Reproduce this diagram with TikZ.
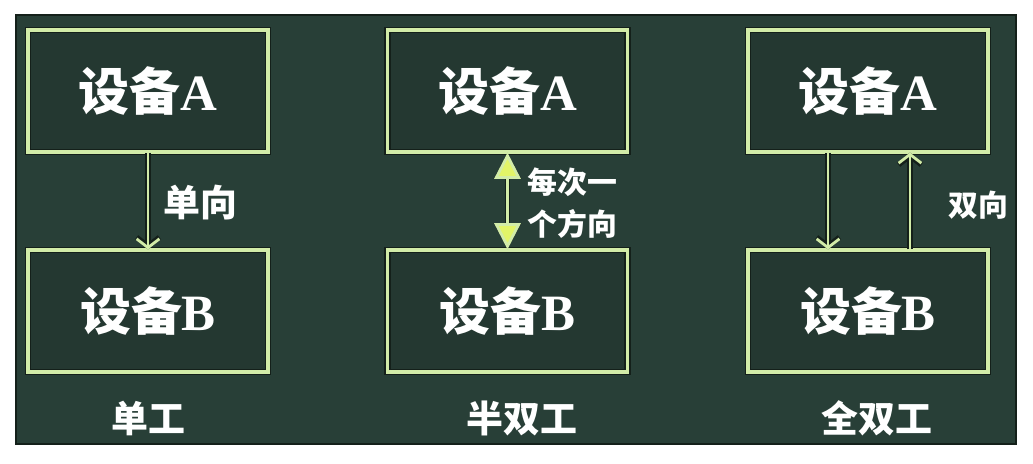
\documentclass[tikz,border=0pt]{standalone}
\usepackage{fontspec}
\setmainfont{Liberation Serif}
\newfontfamily\cjk{Noto Sans CJK SC}
\usetikzlibrary{arrows.meta}
\usetikzlibrary{calc,positioning}

\definecolor{board}{RGB}{40,63,55}
\definecolor{boxfill}{RGB}{36,56,49}
\definecolor{edge}{RGB}{20,32,26}
\definecolor{chalk}{RGB}{210,236,168}
\definecolor{tipfill}{RGB}{226,244,104}

\tikzset{
  devbox/.style={draw=edge, double=chalk, double distance=2.2pt, line width=0.7pt,
    fill=boxfill, minimum width=4.8cm, minimum height=2.44cm, inner sep=0pt,
    text=white, font=\fontsize{29}{32}\selectfont\bfseries},
  chalkline/.style={draw=chalk, line width=1.6pt,
    preaction={draw=edge, line width=3pt}},
  label/.style={text=white, font=\cjk\bfseries\fontsize{21}{24}\selectfont, inner sep=0pt},
  small/.style={text=white, font=\cjk\bfseries\fontsize{17}{24}\selectfont, inner sep=0pt, align=left},
}

\begin{document}
\begin{tikzpicture}[x=0.02cm, y=-0.02cm]
    \useasboundingbox (0,0) rectangle (1033,463);
    \fill[white] (0,0) rectangle (1033,463);
    \draw[fill=board, draw=edge, line width=1.5pt] (16,15) rectangle (1016,444);

    % simplex
    \node[devbox] (A1) at (148,91) {{\cjk 设备}A};
    \node[devbox] (B1) at (148,311) {{\cjk 设备}B};
    \draw[chalkline, -{Straight Barb[length=5pt,width=13pt]}] (A1.south) -- (B1.north);
    \node[label] (u1) at (200,203) {单向};
    \node[label] (t1) at (148,418) {单工};

    % half duplex
    \node[devbox] (A2) at (507.5,91) {{\cjk 设备}A};
    \node[devbox] (B2) at (507.5,311) {{\cjk 设备}B};
    \draw[chalkline, {Triangle[length=15pt,width=15pt,fill=tipfill]}-{Triangle[length=15pt,width=15pt,fill=tipfill]}]
        (A2.south) -- (B2.north);
    \node[small, anchor=west] (u2) at (527,203) {每次一\\个方向};
    \node[label] (t2) at (522,418) {半双工};

    % full duplex
    \node[devbox] (A3) at (868,91) {{\cjk 设备}A};
    \node[devbox] (B3) at (868,311) {{\cjk 设备}B};
    \draw[chalkline, -{Straight Barb[length=5pt,width=13pt]}]
        ([xshift=-0.8cm]A3.south) -- ([xshift=-0.8cm]B3.north);
    \draw[chalkline, -{Straight Barb[length=5pt,width=13pt]}]
        ([xshift=0.84cm]B3.north) -- ([xshift=0.84cm]A3.south);
    \node[small] (u3) at (978,205) {双向};
    \node[label] (t3) at (877,418) {全双工};
\end{tikzpicture}
\end{document}
